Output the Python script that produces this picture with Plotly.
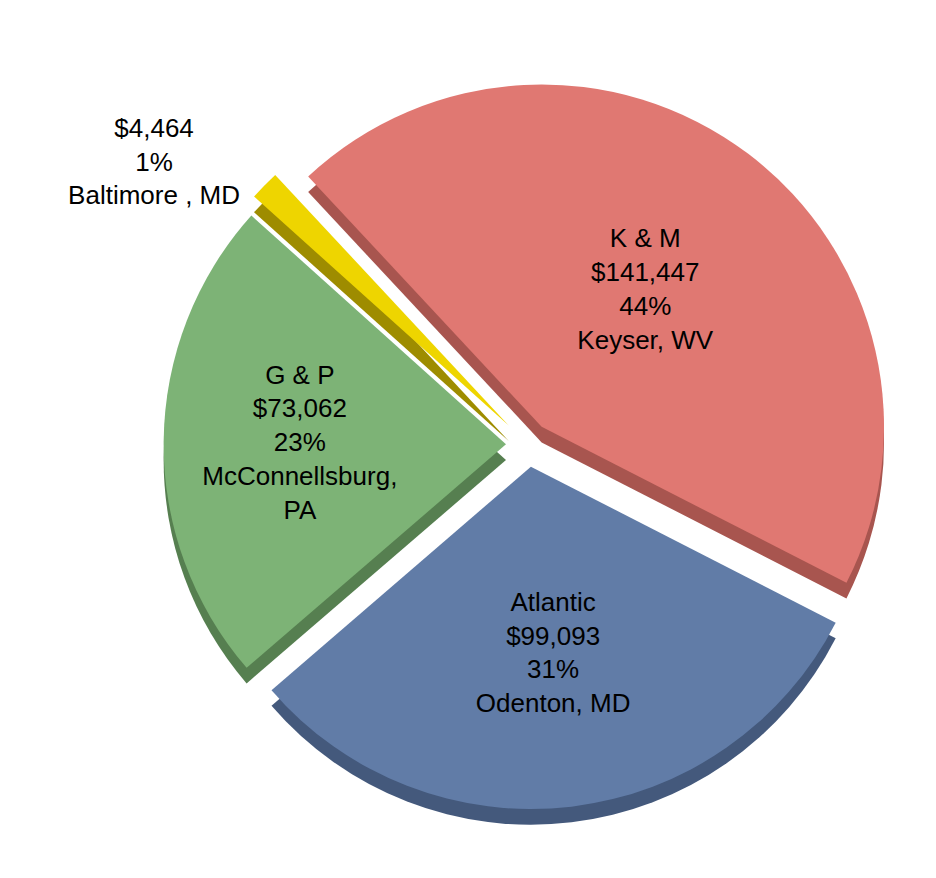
import plotly.graph_objects as go

names = ["K & M", "Atlantic", "G & P", "Baltimore"]
locations = ["Keyser, WV", "Odenton, MD", "McConnellsburg,<br>PA", "Baltimore , MD"]
values = [141447, 99093, 73062, 4464]
pct_labels = ["44%", "31%", "23%", "1%"]
colors = ["#E07872", "#617CA7", "#7DB376", "#EED500"]
side_colors = ["#A8554F", "#44597C", "#567F50", "#9E8C00"]
pulls = [0.065, 0.065, 0.065, 0.08]

texts = []
for n, v, p, loc in zip(names, values, pct_labels, locations):
    if n == "Baltimore":
        texts.append(f"${v:,}<br>{p}<br>{loc}")
    else:
        texts.append(f"{n}<br>${v:,}<br>{p}<br>{loc}")

font = dict(family="Liberation Sans, Arial, sans-serif", size=26, color="black")

fig = go.Figure()
# depth (shadow) layer
fig.add_trace(go.Pie(
    values=values, sort=False, direction="clockwise", rotation=-43,
    pull=pulls, marker=dict(colors=side_colors, line=dict(width=0)),
    textinfo="none", hoverinfo="skip", showlegend=False,
    domain=dict(x=[0.13, 1.0], y=[0.005, 0.965]),
))
fig.add_trace(go.Pie(
    values=values, sort=False, direction="clockwise", rotation=-43,
    pull=pulls, marker=dict(colors=colors, line=dict(width=0)),
    text=texts, textinfo="text", texttemplate="%{text}",
    textposition=["inside", "inside", "inside", "outside"],
    insidetextorientation="horizontal",
    textfont=font, outsidetextfont=font, insidetextfont=font,
    showlegend=False,
    domain=dict(x=[0.13, 1.0], y=[0.025, 0.985]),
))
fig.update_layout(
    width=936, height=878,
    margin=dict(l=0, r=0, t=0, b=0),
    paper_bgcolor="white", plot_bgcolor="white",
    showlegend=False,
)
fig.write_html("out.html")
